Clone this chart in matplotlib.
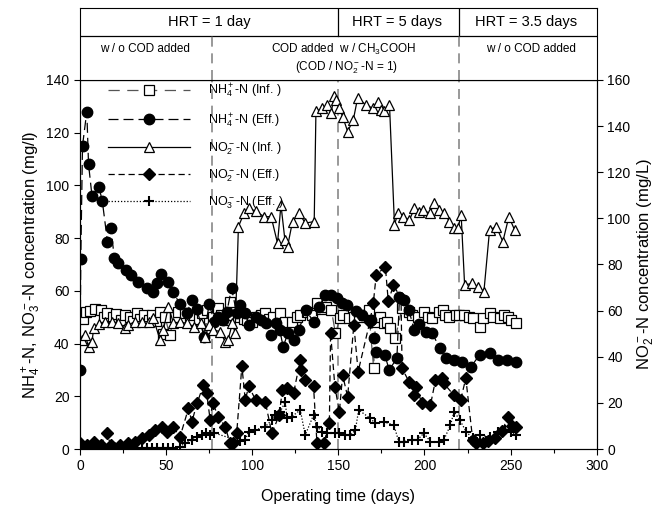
import matplotlib
matplotlib.use("Agg")
import matplotlib.pyplot as plt

plt.rcParams["font.family"] = ["Liberation Sans", "DejaVu Sans"]
plt.rcParams["mathtext.fontset"] = "custom"
plt.rcParams["mathtext.rm"] = "Liberation Sans"
plt.rcParams["mathtext.it"] = "Liberation Sans:italic"
plt.rcParams["mathtext.bf"] = "Liberation Sans:bold"

# (day, mg/l) left axis
nh4_inf = [(0.6, 51.5), (2, 49.5), (3.5, 52), (6, 52.5), (9, 53), (12, 52.7), (14, 50), (16, 51.5),
           (19, 50), (21, 51.3), (24, 49), (26, 50.8), (29, 50.2), (31, 48.5), (33, 51.5), (35, 49.5),
           (37, 50.8), (40, 49), (42, 50.8), (44, 48.5), (46.5, 52), (48, 43.8), (49.5, 50.2), (52, 43.2),
           (55, 50), (57, 52), (61, 51.5), (64, 49), (66, 50.8), (69, 49.5), (71, 51.5), (74, 52.7),
           (77, 50.2), (80, 53.4), (82, 51), (84, 48.9), (87, 55.9), (89, 51), (92, 50), (95, 49.5),
           (97, 49), (100, 48), (102, 50), (105, 51), (107.6, 51.5), (110, 49.5), (112, 50), (116, 51.5),
           (119, 48.3), (123, 48.3), (126, 50), (128, 50.8), (132, 52), (135, 51), (137.6, 55.3), (140, 53),
           (143, 54), (146, 52.7), (148.3, 43.9), (151, 49.6), (153, 51), (156, 49.6), (159, 50), (162, 50.2),
           (165, 51), (167.6, 52.7), (170.5, 30.6), (171.5, 48.3), (174, 50), (176.4, 47.7), (178.3, 48.3),
           (180, 46), (183, 42), (187, 53.4), (191, 52.1), (193, 51), (196, 50.2), (199.6, 52.1), (202, 50),
           (204.5, 49.6), (208.3, 52.1), (210.7, 52.7), (212, 51), (214.5, 50.2), (218.4, 50.8), (220, 51),
           (223, 50.8), (226, 50), (228, 49.6), (232, 46.4), (234, 49.6), (238, 51.5), (240, 50.2),
           (243.6, 49.6), (246, 51), (248.4, 50.2), (250, 49), (253, 47.7)]

nh4_eff = [(0, 30), (0.5, 72), (1.5, 115), (4, 128), (5, 108), (7, 96), (11, 99.5), (13, 94), (16, 78.6),
           (18, 83.7), (20, 72.3), (22, 70.4), (26.5, 68), (29.5, 66), (34, 63.5), (39, 61), (42.5, 59.7),
           (45, 63), (47, 66.5), (51, 63.5), (54, 59.7), (58, 55), (62, 51.5), (65, 56.5), (68, 53),
           (72, 42.6), (75, 55), (78, 48.3), (80.4, 50.2), (83, 49), (85.3, 52), (88, 61), (91, 51.5),
           (93, 54.6), (96, 51.5), (98, 47), (102, 50.2), (105, 49), (108, 47.7), (111, 43.2), (114, 47.7),
           (116, 45), (118, 38.8), (120.7, 43.9), (124, 41.4), (127, 45), (131, 52.7), (136, 48), (139, 54),
           (142, 58.4), (146, 58.4), (149, 57.2), (152, 55.3), (155, 54.6), (160, 52.5), (164, 51),
           (169, 48.9), (170.5, 42), (172, 36.9), (177, 35.7), (179.5, 30), (184, 34.4), (185.5, 57.8),
           (188, 56.5), (191, 52.7), (194, 45.1), (197, 47.5), (201, 44.5), (204.5, 43.9), (209, 38.2),
           (212.5, 34.4), (217, 33.8), (222, 33.1), (227, 31.2), (232, 35.7), (238, 36.3), (242.6, 33.8),
           (248, 33.8), (253, 33)]

no3_eff = [(0, 0.4), (3, 0), (6, 0.3), (10, 0), (14, 0.2), (18, 0), (22, 0), (26, 0), (30, 0), (33, 0.4),
           (36, 0.4), (39, 0.3), (42, 0.4), (45, 0.4), (48, 0.4), (51, 0.4), (54, 0.4), (58, 0.9),
           (61, 2.2), (65, 3.4), (67.8, 4.6), (70.7, 5.3), (73.4, 6.1), (75.6, 5.3), (78, 6.1), (93, 2.9),
           (96, 3.5), (97.9, 6.6), (101.7, 7.2), (107.6, 8.5), (111.4, 11), (113.4, 12.9), (116.3, 14.2),
           (119.2, 17.9), (120.2, 11.6), (123, 12.3), (127.9, 14.8), (130.8, 5.3), (135.6, 12.9),
           (137.6, 8.5), (140.5, 6.6), (143.4, 6), (148.3, 6), (150.2, 6), (154, 5.3), (157, 5.3),
           (159.9, 7.2), (161.8, 14.8), (168.6, 11.6), (171.5, 9.7), (176.4, 10.3), (182.2, 9.1),
           (185.1, 2.8), (188, 2.8), (192.8, 3.4), (196, 3.5), (199.6, 6), (203.5, 2.8), (208.3, 2.8),
           (211.2, 3.4), (215.1, 9.1), (217.2, 14.2), (220.5, 11), (224.2, 6.6), (228, 4), (232, 5.3),
           (237.8, 4.6), (242.6, 6.6), (246.5, 7.2), (250.4, 6.6), (253.3, 5.3)]

# (day, mg/L) right axis
no2_inf = [(1, 47.3), (3, 49.4), (5, 44.4), (7, 46.5), (8, 52.3), (11, 54), (14.5, 55.2), (18.4, 55.2),
           (22, 54.5), (26, 52.3), (28, 53.8), (32, 55.2), (36, 55.2), (40, 55.2), (42.6, 56.7), (46.5, 47.3),
           (48.4, 51.6), (51.4, 61.7), (54.3, 54.5), (58, 55), (62, 54.5), (66, 53), (70, 54.5), (72.7, 48.7),
           (75, 53.8), (77.5, 51.6), (81.4, 50.9), (84.3, 46.5), (86, 47.3), (88.5, 54.5), (90.1, 50.2),
           (92, 96.4), (95.3, 102.3), (98, 104.5), (102, 103), (107, 100.7), (111, 100.7), (114.7, 89.2),
           (116.7, 105.8), (119, 90.6), (120.5, 87.7), (123.4, 98.6), (127.3, 102.2), (130.8, 97.9),
           (136, 98.6), (137, 146.3), (140.7, 147.7), (143.7, 149.2), (145.7, 145.6), (147.7, 152.8),
           (148.6, 151.3), (150.6, 147.7), (152.5, 144.1), (155.4, 137.6), (158.7, 142.7), (161.2, 152.1),
           (166, 149.2), (170, 147.7), (172.9, 150.6), (174.8, 147), (176.7, 146.3), (179.7, 149.2),
           (182.6, 97.1), (184.5, 102.2), (187.4, 100.7), (191.3, 99.3), (194.2, 104.4), (197, 102.9),
           (199, 103.6), (203, 102.2), (205.8, 106.5), (208.7, 103.6), (211.6, 102.2), (214.5, 98.6),
           (217.4, 95.7), (219.4, 95.7), (221.3, 101.5), (223.3, 71.1), (227.7, 71.8), (231, 70.4),
           (234.5, 68.2), (237.8, 95), (241.7, 96.4), (245.5, 89.9), (249, 100.7), (252.3, 95)]

no2_eff = [(0, 2.5), (2, 1), (4, 1.7), (6, 0.5), (8, 3.2), (10, 1), (12, 1.7), (15.5, 6.8), (18, 1.7),
           (20, 0.5), (23, 1.7), (26, 1), (28, 2.5), (32, 3.2), (36, 4.6), (40, 6.1), (43.6, 8.2), (47.5, 9.7),
           (50.4, 7.5), (54.3, 9.7), (58, 5), (63, 17.6), (65, 11.9), (68, 19.8), (71.7, 27.8), (73.6, 24.1),
           (75.6, 12.6), (77, 20), (80.4, 14), (84.3, 9.7), (87.2, 2.5), (89, 2.5), (91, 6.8), (94, 36),
           (96, 21.2), (98, 27.3), (102, 21.2), (107.6, 20.5), (111.4, 6.8), (115.7, 14.7), (117.5, 25.6),
           (120.2, 26.3), (124, 24.1), (127.9, 38.6), (128.5, 34.3), (130.8, 29.9), (135.6, 27.3),
           (137.6, 2.5), (141.5, 2.5), (144.8, 11.1), (145.5, 50.4), (148, 27), (150.6, 16.2), (152.5, 32),
           (155.4, 22.7), (159, 53.8), (161.5, 33.5), (168.3, 55.2), (170.3, 63.2), (172, 75.5), (177.3, 79),
           (179, 64), (182, 71), (186.4, 65.3), (187, 35), (191, 29.2), (193.8, 23.4), (194.8, 27),
           (198.7, 19.8), (203.5, 19.1), (206.4, 29.9), (210.3, 30.7), (211.2, 28.5), (217, 23.4),
           (221, 21.2), (224, 30.7), (228, 4), (230, 2.6), (234, 2.6), (237, 3.5), (241, 4.8), (245, 7.7),
           (248.5, 14), (251, 10), (253, 9.7)]

phase_days = [76.5, 150, 220]
hrt_labels = ["HRT = 1 day", "HRT = 5 days", "HRT = 3.5 days"]
hrt_x = [75, 184, 259]


def xy(pts):
    return [p[0] for p in pts], [p[1] for p in pts]


fig = plt.figure(figsize=(6.66, 5.12), dpi=100)
ax = fig.add_axes([0.120, 0.123, 0.776, 0.721])
ax2 = ax.twinx()
hx = fig.add_axes([0.120, 0.844, 0.776, 0.140])

lw = 0.9
h1, = ax.plot(*xy(nh4_inf), color="#555555", lw=lw, dashes=(9, 6), marker="s", ms=6.8,
              mfc="white", mec="black", mew=0.9, label="NH$_4^+$-N (Inf. )")
h2, = ax.plot(*xy(nh4_eff), color="black", lw=lw, dashes=(8, 4), marker="o", ms=7.5,
              mfc="black", mec="black", label="NH$_4^+$-N (Eff.)")
h5, = ax.plot(*xy(no3_eff), color="black", lw=lw, ls=(0, (1, 1.5)), marker="+", ms=7.5,
              mew=1.5, label="NO$_3^-$-N (Eff. )")
h3, = ax2.plot(*xy(no2_inf), color="black", lw=lw, ls="-", marker="^", ms=7.5,
               mfc="white", mec="black", mew=0.9, label="NO$_2^-$-N (Inf. )")
h4, = ax2.plot(*xy(no2_eff), color="black", lw=lw, dashes=(5, 3), marker="D", ms=6.5,
               mfc="black", mec="black", label="NO$_2^-$-N (Eff.)")

for d in phase_days:
    ax.axvline(d, color="#888888", lw=1.2, dashes=(6, 4), zorder=0)

ax.set_xlim(0, 300)
ax.set_ylim(0, 140)
ax2.set_ylim(0, 160)
ax.set_xticks(range(0, 301, 50))
ax.set_xticks(range(0, 301, 25), minor=True)
ax.set_yticks(range(0, 141, 20))
ax2.set_yticks(range(0, 161, 20))
for a in (ax, ax2):
    a.tick_params(which="both", direction="out", labelsize=10, length=4, width=0.8)
ax.tick_params(which="minor", length=3)
ax.set_xlabel("Operating time (days)", fontsize=11.5, labelpad=11)
ax.set_ylabel("NH$_4^+$-N, NO$_3^-$-N concentration (mg/l)", fontsize=12, labelpad=2)
ax2.set_ylabel("NO$_2^-$-N concentration (mg/L)", fontsize=12, labelpad=4)

ax2.legend(handles=[h1, h2, h3, h4, h5], loc="upper left", bbox_to_anchor=(0.055, 0.995),
           frameon=False, fontsize=9, handlelength=6.5, handletextpad=1.5,
           labelspacing=0.85, borderpad=0, borderaxespad=0, numpoints=1)

# header boxes
hx.set_xlim(0, 300)
hx.set_ylim(0, 72)
hx.set_xticks([])
hx.set_yticks([])
hx.axhline(44, color="black", lw=0.9)
hx.plot([150, 150], [44, 72], color="black", lw=0.9)
hx.plot([220, 220], [44, 72], color="black", lw=0.9)
for d in (76.5, 220):
    hx.plot([d, d], [0, 44], color="#888888", lw=1.2, dashes=(6, 4))
for x, t in zip(hrt_x, hrt_labels):
    hx.text(x, 58, t, ha="center", va="center", fontsize=10.5)
hx.text(38, 31, "w / o COD added", ha="center", va="center", fontsize=8.5)
hx.text(153, 31, "COD added  w / CH$_3$COOH", ha="center", va="center", fontsize=8.5)
hx.text(155, 12, "(COD / NO$_2^-$-N = 1)", ha="center", va="center", fontsize=8.5)
hx.text(262, 31, "w / o COD added", ha="center", va="center", fontsize=8.5)

fig.savefig("out.png", dpi=100)
